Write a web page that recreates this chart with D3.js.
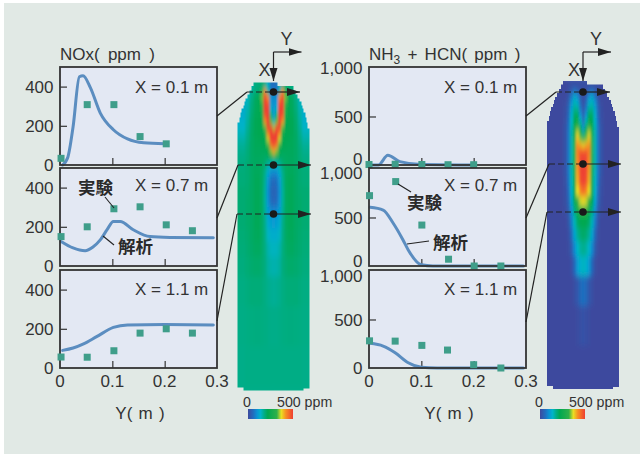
<!DOCTYPE html>
<html><head><meta charset="utf-8">
<script src="https://cdn.jsdelivr.net/npm/d3@7"></script>
<style>
html,body{margin:0;padding:0;background:#fff}
svg{display:block}
text{font-family:"Liberation Sans",Arial,sans-serif;fill:#333}
.jp{font-family:"Noto Sans CJK JP",sans-serif;font-weight:700;fill:#2a2a2a}
</style></head><body><div id="c"></div>
<script>
const panelLabels=["X = 0.1 m","X = 0.7 m","X = 1.1 m"];
const xTicks=[0,0.1,0.2,0.3];
const noxTicks=[0,200,400];
const nhTicks=[0,500,1000];
const noxLine1=[[0.005,0],[0.015,40],[0.025,195],[0.037,450],[0.044,455],[0.058,395],[0.077,265],[0.102,180],[0.129,133],[0.16,113],[0.2,108]];
const noxPts1=[[0.002,34],[0.052,308],[0.103,308],[0.153,145],[0.203,108]];
const noxLine2=[[0.002,125],[0.025,92],[0.048,78],[0.063,97],[0.077,133],[0.09,185],[0.102,227],[0.115,227],[0.14,185],[0.172,150],[0.21,146],[0.293,144]];
const noxPts2=[[0.002,150],[0.052,200],[0.103,292],[0.153,302],[0.203,210],[0.253,180]];
const noxLine3=[[0.005,90],[0.025,102],[0.045,123],[0.07,160],[0.102,207],[0.129,220],[0.2,222],[0.293,220]];
const noxPts3=[[0.002,56],[0.052,55],[0.103,88],[0.153,178],[0.203,200],[0.253,178]];
const nhLine1=[[0,0],[0.018,0],[0.036,100],[0.059,35],[0.1,5],[0.2,0]];
const nhPts1=[[0,5],[0.05,8],[0.101,5],[0.151,3],[0.2,3]];
const nhLine2=[[0.002,605],[0.027,577],[0.046,443],[0.065,268],[0.075,165],[0.1,12],[0.122,0],[0.295,0]];
const nhPts2=[[0.001,725],[0.051,870],[0.101,422],[0.152,70],[0.201,0],[0.252,0]];
const nhLine3=[[0.002,254],[0.027,226],[0.05,157],[0.075,54],[0.1,8],[0.13,0],[0.295,0]];
const nhPts3=[[0.001,280],[0.05,277],[0.101,233],[0.15,185],[0.2,34],[0.252,0]];

// heat maps: rows along X (flame axis), columns are distance from axis (half width, mirrored)
const heatRows=[-6,6,12,18,24,30,36,42,48,54,60,66,72,78,86,94,104,114,124,134,146,159,174,194,224,264,304];
const heatCols=[0,3,6,9,12,15,18,22,26,30,36];
const noxHeat=[
[60,60,140,175,190,190,185,160,140,130,130],
[70,70,170,420,300,200,190,170,140,130,130],
[90,100,420,520,340,225,210,180,145,130,130],
[90,110,480,520,320,222,210,185,150,130,130],
[100,140,510,510,290,220,212,190,155,130,130],
[110,200,520,480,260,220,215,195,160,130,130],
[150,330,520,420,235,220,218,200,165,135,135],
[350,490,500,330,225,220,218,200,170,140,140],
[510,520,430,270,220,220,218,205,175,150,150],
[520,510,360,240,220,218,215,205,180,160,160],
[510,440,290,222,218,215,215,205,185,170,170],
[400,340,245,215,213,212,212,205,190,175,175],
[240,230,210,205,208,210,210,205,190,180,180],
[150,150,165,195,207,210,210,205,195,185,185],
[90,95,130,175,205,212,212,205,195,190,190],
[50,60,105,170,205,215,215,205,195,190,190],
[40,50,95,165,205,215,215,205,198,195,195],
[45,55,100,165,205,215,215,205,200,195,195],
[85,90,115,170,205,215,215,205,200,195,195],
[110,115,130,175,205,215,215,205,200,195,195],
[130,132,145,178,203,213,212,205,198,192,192],
[145,147,158,182,200,208,208,203,196,190,190],
[155,158,165,185,195,200,200,198,192,186,186],
[170,172,176,182,188,190,190,190,186,182,182],
[178,178,180,182,184,185,185,184,182,180,180],
[180,180,180,180,180,180,180,180,180,178,178],
[178,178,178,178,178,178,178,178,178,178,178]];
const nhHeat=[
[10,10,10,10,10,5,0,0,0,0,0],
[5,10,40,60,30,10,0,0,0,0,0],
[5,30,100,125,75,20,0,0,0,0,0],
[10,50,130,150,100,35,5,0,0,0,0],
[20,70,170,175,120,45,8,0,0,0,0],
[30,100,210,205,130,50,10,0,0,0,0],
[50,150,240,225,140,60,12,0,0,0,0],
[100,200,300,245,150,65,15,0,0,0,0],
[170,270,360,275,155,70,15,0,0,0,0],
[280,340,390,300,155,70,15,0,0,0,0],
[380,400,420,310,155,70,15,0,0,0,0],
[470,470,440,310,155,70,15,0,0,0,0],
[500,490,430,300,155,70,15,0,0,0,0],
[510,490,420,290,155,70,15,0,0,0,0],
[510,490,410,280,150,70,15,0,0,0,0],
[510,480,400,270,145,65,12,0,0,0,0],
[460,430,370,250,135,55,10,0,0,0,0],
[375,360,320,225,120,45,8,0,0,0,0],
[320,300,240,180,95,30,5,0,0,0,0],
[230,225,200,150,75,20,0,0,0,0,0],
[205,195,170,120,50,10,0,0,0,0,0],
[175,165,140,90,30,5,0,0,0,0,0],
[145,135,110,50,10,0,0,0,0,0,0],
[60,50,25,10,0,0,0,0,0,0,0],
[15,10,5,0,0,0,0,0,0,0,0],
[0,0,0,0,0,0,0,0,0,0,0],
[0,0,0,0,0,0,0,0,0,0,0]];
// silhouette of the burner outline
const outlineRows=[0,3.5,8,12,16,19,23,26,30,35,40,46,305,306,308];
const outlineHalf=[4,20,22,24,26,28,29,30,32,33,34,36,36,30,30];
const colorStops=[0,60,100,140,180,220,320,370,420,500];
const colorVals=["#3d4a9e","#1f6fc0","#0a93d4","#00b4c8","#00ad85","#00a851","#2fb04a","#e9e023","#f78f22","#ee3f32"];

const W=640,H=454;
const svg=d3.select("#c").append("svg").attr("width",W).attr("height",H);
svg.append("rect").attr("x",4).attr("y",3).attr("width",W-4).attr("height",H-3).attr("fill","#e1e9e5");
const defs=svg.append("defs");
defs.append("filter").attr("id","soft").attr("x","-10%").attr("y","-10%").attr("width","120%").attr("height","120%")
  .append("feGaussianBlur").attr("stdDeviation","1.3 3");
const mk=defs.append("marker").attr("id","ah").attr("markerUnits","userSpaceOnUse").attr("markerWidth",14).attr("markerHeight",10)
  .attr("refX",13).attr("refY",5).attr("orient","auto");
mk.append("path").attr("d","M0,1L13,5L0,9Z").attr("fill","#222");

const color=d3.scaleLinear().domain(colorStops).range(colorVals).clamp(true);
const FS=17;

function panel(x0,top,bottom,maxV,ticks,line,pts,label,labelDy,fmt,tickLabelShift){
  const xs=d3.scaleLinear().domain([0,0.3]).range([x0,x0+157]);
  const ys=d3.scaleLinear().domain([0,maxV]).range([bottom,top]);
  const g=svg.append("g");
  g.append("rect").attr("x",x0).attr("y",top).attr("width",157).attr("height",bottom-top).attr("fill","#e3e8f3");
  const ya=g.append("g").attr("transform",`translate(${x0},0)`).call(d3.axisRight(ys).tickValues(ticks.filter(t=>t>0&&t<maxV*0.99)).tickSize(7).tickFormat(""));
  ya.select(".domain").remove(); ya.selectAll("line").attr("stroke","#333").attr("stroke-width",1.2);
  const xa=g.append("g").attr("transform",`translate(0,${bottom})`).call(d3.axisTop(xs).tickValues([0.1,0.2]).tickSize(7).tickFormat(""));
  xa.select(".domain").remove(); xa.selectAll("line").attr("stroke","#333").attr("stroke-width",1.2);
  g.append("path").attr("d",d3.line().x(d=>xs(d[0])).y(d=>ys(d[1])).curve(d3.curveMonotoneX)(line))
    .attr("fill","none").attr("stroke","#5b8dc0").attr("stroke-width",3).attr("stroke-linecap","round");
  g.append("rect").attr("x",x0).attr("y",top).attr("width",157).attr("height",bottom-top).attr("fill","none").attr("stroke","#333").attr("stroke-width",1.8);
  g.selectAll("rect.pt").data(pts).join("rect").attr("class","pt")
    .attr("x",d=>xs(d[0])-3.5).attr("y",d=>ys(d[1])-3.5).attr("width",7).attr("height",7).attr("fill","#3f9e8a");
  ticks.forEach(t=>{
    const sh=tickLabelShift?tickLabelShift(t):0;
    g.append("text").attr("x",x0-6.5).attr("y",ys(t)+sh).attr("dy","0.36em").attr("text-anchor","end").attr("font-size",FS).text(fmt(t));
  });
  g.append("text").attr("x",x0+75).attr("y",top+labelDy).attr("dy","0.36em").attr("font-size",FS).text(label);
}
const tops=[67,168,270], bottoms=[165,266,368];
const f0=d3.format("d"), f1=d3.format(",");
panel(60,tops[0],bottoms[0],500,noxTicks,noxLine1,noxPts1,panelLabels[0],20,f0);
panel(60,tops[1],bottoms[1],500,noxTicks,noxLine2,noxPts2,panelLabels[1],17,f0);
panel(60,tops[2],bottoms[2],500,noxTicks,noxLine3,noxPts3,panelLabels[2],19,f0);
panel(369,tops[0],bottoms[0],1010,nhTicks,nhLine1,nhPts1,panelLabels[0],20,f1,t=>t===0?-6:0);
panel(369,tops[1],bottoms[1],1010,nhTicks,nhLine2,nhPts2,panelLabels[1],17,f1,t=>t===0?-5:(t===1000?4:0));
panel(369,tops[2],bottoms[2],1010,nhTicks,nhLine3,nhPts3,panelLabels[2],19,f1,t=>t===1000?5:0);

// x tick labels & titles
[60,369].forEach(x0=>{
  const xs=d3.scaleLinear().domain([0,0.3]).range([x0,x0+157]);
  xTicks.forEach(t=>svg.append("text").attr("x",xs(t)).attr("y",381).attr("dy","0.36em").attr("text-anchor","middle").attr("font-size",FS).text(t===0?"0":t.toFixed(1)));
  svg.append("text").attr("x",x0+80).attr("y",413).attr("dy","0.36em").attr("text-anchor","middle").attr("font-size",FS).attr("word-spacing",1.5).text("Y( m )");
});
svg.append("text").attr("x",60).attr("y",54).attr("dy","0.36em").attr("font-size",FS).attr("word-spacing",3.5).text("NOx( ppm )");
const tt=svg.append("text").attr("x",369).attr("y",54).attr("dy","0.36em").attr("font-size",FS).attr("word-spacing",2.5);
tt.append("tspan").text("NH");
tt.append("tspan").attr("font-size",12).attr("dy",4).text("3");
tt.append("tspan").attr("dy",-4).text(" + HCN( ppm )");

// annotations
function note(txt,x,y,a){
  svg.append("text").attr("class","jp").attr("x",x).attr("y",y).attr("dy","0.36em").attr("font-size",17.5).text(txt);
  svg.append("line").attr("x1",a[0]).attr("y1",a[1]).attr("x2",a[2]).attr("y2",a[3]).attr("stroke","#222").attr("stroke-width",1.1);
}
note("実験",78,188,[105,197,114,208]);
note("解析",118,247,[103,236,114,245]);
note("実験",407,203,[398,184,411,192]);
note("解析",433,243,[407,244,429,241]);

// heat maps
function heat(cx,y0,outlineY0,grid,id){
  const yTop=d3.scaleLinear().domain([0,304]).range([y0,y0+304]);
  const yOut=d3.scaleLinear().domain([0,304]).range([outlineY0,outlineY0+304]);
  const xHalf=d3.scaleLinear().domain([0,36]).range([0,36]);
  const pts=outlineRows.map((r,i)=>[cx+xHalf(outlineHalf[i]),yOut(r)]);
  const all=pts.concat(outlineRows.map((r,i)=>[cx-xHalf(outlineHalf[i]),yOut(r)]).reverse());
  defs.append("clipPath").attr("id",id).append("path").attr("d",d3.line().curve(d3.curveStepBefore)(all)+"Z");
  const wrap=svg.append("g").attr("clip-path",`url(#${id})`);
  const inner=wrap.append("g").attr("filter","url(#soft)");
  const cells=[];
  heatRows.forEach((r,i)=>{
    const rEnd=i+1<heatRows.length?heatRows[i+1]:r+10;
    heatCols.forEach((c,j)=>{
      const cEnd=j+1<heatCols.length?heatCols[j+1]:c+8;
      [1,-1].forEach(s=>cells.push({v:grid[i][j],y:yTop(r)-3,h:rEnd-r+0.5,x:s>0?cx+xHalf(c)-1.5:cx-xHalf(cEnd)+1.5,w:cEnd-c+0.5}));
    });
  });
  inner.selectAll("rect").data(cells).join("rect").attr("x",d=>d.x).attr("y",d=>d.y).attr("width",d=>d.w).attr("height",d=>d.h).attr("fill",d=>color(d.v));
}
heat(273.5,85.5,82.5,noxHeat,"clipA");
heat(583,85,81,nhHeat,"clipB");

// colour bars
function bar(x0,id){
  const grad=defs.append("linearGradient").attr("id",id);
  const sx=d3.scaleLinear().domain([0,500]).range([0,100]);
  colorStops.forEach((s,i)=>grad.append("stop").attr("offset",sx(s)+"%").attr("stop-color",colorVals[i]));
  svg.append("rect").attr("x",x0).attr("y",409).attr("width",45).attr("height",10).attr("fill",`url(#${id})`);
  svg.append("text").attr("x",x0-1).attr("y",402).attr("dy","0.36em").attr("text-anchor","middle").attr("font-size",14.2).text("0");
  svg.append("text").attr("x",x0+29).attr("y",402).attr("dy","0.36em").attr("font-size",14.2).text("500 ppm");
}
bar(248,"gA"); bar(540,"gB");

// leaders + probes
function probes(panelX,cx,rows){
  rows.forEach(r=>{
    svg.append("line").attr("x1",panelX).attr("y1",r.py).attr("x2",r.kx).attr("y2",r.y).attr("stroke","#222").attr("stroke-width",1.2);
    svg.append("line").attr("x1",r.kx).attr("y1",r.y).attr("x2",cx).attr("y2",r.y).attr("stroke","#222").attr("stroke-width",1.2).attr("stroke-dasharray","6 3");
    svg.append("line").attr("x1",cx).attr("y1",r.y).attr("x2",r.end).attr("y2",r.y).attr("stroke","#222").attr("stroke-width",1.2).attr("marker-end","url(#ah)");
    svg.append("circle").attr("cx",cx).attr("cy",r.y).attr("r",3.8).attr("fill","#1a1a1a");
  });
  svg.append("line").attr("x1",cx).attr("y1",52).attr("x2",cx+28).attr("y2",52).attr("stroke","#222").attr("stroke-width",1.2).attr("marker-end","url(#ah)");
  svg.append("line").attr("x1",cx).attr("y1",52).attr("x2",cx).attr("y2",81).attr("stroke","#222").attr("stroke-width",1.2).attr("marker-end","url(#ah)");
  svg.append("text").attr("x",cx+13).attr("y",39).attr("dy","0.36em").attr("text-anchor","middle").attr("font-size",18).text("Y");
  svg.append("text").attr("x",cx-9).attr("y",70).attr("dy","0.36em").attr("text-anchor","middle").attr("font-size",18).text("X");
}
probes(217,273.5,[{py:116,kx:247,y:92,end:300},{py:218,kx:238,y:165,end:311},{py:321,kx:237,y:214,end:311}]);
probes(526,583,[{py:116,kx:556,y:92,end:610},{py:218,kx:549,y:164,end:621},{py:322,kx:547,y:212,end:621}]);
</script></body></html>
